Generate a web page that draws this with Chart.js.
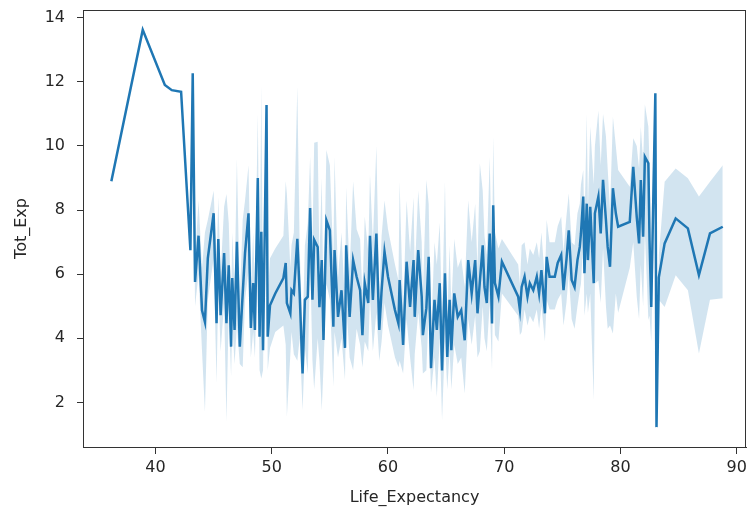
<!DOCTYPE html>
<html>
<head>
<meta charset="utf-8">
<script src="https://cdn.jsdelivr.net/npm/chart.js@4"></script>
<style>
  html, body { margin: 0; padding: 0; background: #fff; }
  #wrap { width: 747px; height: 515px; }
</style>
</head>
<body>
<div id="wrap"><canvas id="lineChart" width="747" height="515"></canvas></div>
<script>
// ── Data ───────────────────────────────────────────────────────────────────
const lifeExp = [
  36.2, 38.9, 40.8, 41.4, 42.2, 43.0, 43.2, 43.4, 43.7, 44.0, 44.25, 44.5, 45.0, 45.25, 45.4, 45.6, 45.9, 46.1, 46.3, 46.5,
  46.6, 46.8, 47.0, 47.25, 47.5, 47.7, 48.0, 48.2, 48.4, 48.55, 48.8, 48.95, 49.1, 49.25, 49.55, 49.65, 49.85, 50.3, 51.0, 51.2,
  51.3, 51.6, 51.7, 51.9, 52.2, 52.4, 52.65, 52.85, 53.1, 53.3, 53.5, 53.65, 53.95, 54.1, 54.3, 54.45, 54.7, 55.0, 55.3, 55.4,
  55.7, 56.0, 56.3, 56.4, 56.7, 57.0, 57.3, 57.6, 57.8, 58.0, 58.3, 58.45, 58.7, 59.0, 59.25, 59.45, 59.7, 60.0, 60.6, 60.9,
  61.0, 61.3, 61.6, 61.9, 62.2, 62.3, 62.6, 62.9, 63.0, 63.3, 63.5, 63.7, 64.0, 64.2, 64.45, 64.65, 64.9, 65.1, 65.3, 65.45,
  65.7, 66.0, 66.3, 66.6, 66.9, 67.2, 67.5, 67.7, 67.9, 68.15, 68.3, 68.5, 68.75, 68.95, 69.05, 69.2, 69.5, 69.8, 71.2, 71.35,
  71.5, 71.75, 72.0, 72.2, 72.5, 72.8, 73.0, 73.2, 73.5, 73.65, 73.9, 74.35, 74.6, 74.9, 75.1, 75.35, 75.55, 75.8, 76.05, 76.3,
  76.5, 76.6, 76.8, 76.9, 77.1, 77.2, 77.4, 77.7, 77.8, 78.1, 78.3, 78.5, 78.75, 78.9, 79.1, 79.35, 79.6, 79.8, 80.8, 81.1,
  81.4, 81.6, 81.75, 81.95, 82.1, 82.4, 82.5, 82.65, 82.8, 83.0, 83.1, 83.3, 83.8, 84.75, 85.8, 86.75, 87.7, 88.8
];
const totExp = [
  8.9, 13.62, 11.9, 11.74, 11.69, 6.75, 12.27, 5.76, 7.2, 4.87, 4.51, 6.5, 7.9, 4.47, 7.1, 4.72, 6.66, 4.47, 6.28, 3.74,
  5.88, 4.26, 7.01, 3.74, 5.4, 6.66, 7.9, 4.32, 5.72, 4.26, 9.0, 4.05, 7.32, 3.63, 11.28, 4.05, 5.03, 5.4, 5.88, 6.35,
  5.1, 4.78, 5.5, 5.4, 7.1, 5.4, 2.9, 5.2, 5.3, 8.06, 5.2, 7.07, 6.85, 4.97, 6.44, 3.95, 7.68, 7.37, 4.36, 6.75,
  4.67, 5.5, 3.7, 6.9, 4.67, 6.44, 5.92, 5.5, 4.1, 5.72, 5.1, 7.2, 5.2, 7.27, 4.26, 5.5, 6.7, 5.92, 4.88, 4.46,
  5.82, 3.79, 6.39, 4.98, 6.44, 4.67, 6.75, 5.3, 4.1, 4.94, 6.54, 3.07, 5.2, 4.26, 5.72, 3.0, 6.03, 3.42, 5.2, 3.63,
  5.4, 4.67, 4.88, 3.94, 6.44, 5.4, 6.44, 4.78, 5.76, 6.9, 5.6, 5.1, 7.27, 4.46, 8.15, 5.72, 5.3, 6.39, 5.3, 4.88,
  5.6, 5.92, 5.3, 5.72, 5.5, 5.92, 5.4, 6.13, 4.78, 6.54, 5.92, 5.92, 6.35, 6.6, 5.5, 6.44, 7.37, 5.82, 5.6, 6.44,
  6.85, 7.27, 8.42, 6.03, 8.2, 6.44, 8.1, 5.72, 7.9, 8.42, 7.27, 8.94, 7.69, 6.85, 6.23, 8.68, 7.9, 7.48, 7.63, 9.35,
  7.79, 6.96, 8.94, 7.17, 9.66, 9.46, 7.06, 4.98, 7.9, 11.64, 1.23, 5.9, 6.96, 7.74, 7.43, 5.97, 7.27, 7.48
];
const ciLow = [
  8.9, 13.62, 11.9, 11.74, 11.69, 6.75, 12.27, 5.0, 6.0, 3.6, 1.7, 5.2, 6.5, 2.6, 5.6, 3.6, 5.1, 1.4, 4.9, 2.8,
  4.5, 3.2, 4.4, 3.2, 3.1, 5.2, 6.1, 3.4, 4.2, 3.4, 6.8, 3.0, 2.75, 3.0, 11.28, 3.0, 3.7, 4.2, 4.4, 3.8,
  1.55, 3.5, 4.2, 3.5, 3.3, 4.0, 1.76, 3.7, 2.9, 6.5, 3.3, 2.4, 4.0, 3.3, 1.76, 3.1, 5.7, 5.2, 2.49, 4.2,
  3.4, 4.0, 2.7, 5.1, 3.4, 3.0, 4.3, 3.8, 3.1, 3.9, 3.6, 5.3, 3.6, 4.8, 3.3, 3.9, 5.1, 4.4, 3.4, 3.1,
  3.3, 2.9, 4.6, 3.4, 2.38, 3.5, 4.8, 3.7, 2.9, 3.0, 4.9, 2.3, 3.4, 2.17, 4.0, 1.45, 3.9, 2.4, 3.6, 2.4,
  3.8, 3.2, 3.4, 2.28, 4.6, 3.8, 4.7, 3.4, 3.6, 5.0, 4.0, 3.6, 5.1, 3.0, 6.2, 4.1, 3.9, 5.4, 4.7, 4.1,
  4.2, 4.9, 4.4, 4.7, 4.5, 4.9, 4.3, 5.0, 3.9, 5.2, 4.9, 4.9, 5.2, 5.4, 4.4, 5.1, 6.0, 4.6, 4.3, 5.0,
  5.5, 5.7, 7.0, 4.7, 5.4, 4.8, 5.4, 2.07, 5.7, 5.8, 5.1, 6.8, 5.0, 4.3, 4.4, 4.15, 5.4, 4.8, 6.2, 7.0,
  5.3, 4.6, 6.3, 5.0, 7.3, 4.57, 4.7, 3.9, 6.1, 11.64, 1.23, 5.2, 4.98, 5.97, 5.5, 3.53, 5.2, 5.25
];
const ciHigh = [
  8.9, 13.62, 11.9, 11.74, 11.69, 6.75, 12.27, 6.5, 8.3, 6.2, 7.3, 7.7, 8.6, 6.3, 8.4, 6.0, 8.1, 8.5, 7.6, 5.0,
  7.3, 5.6, 9.6, 5.2, 7.7, 8.3, 9.4, 5.5, 7.3, 5.6, 11.0, 5.3, 11.9, 4.8, 11.28, 5.2, 6.5, 6.8, 7.2, 8.9,
  8.5, 6.2, 6.9, 7.3, 11.85, 6.8, 4.2, 6.9, 7.6, 9.66, 7.0, 10.1, 10.13, 6.5, 9.0, 5.0, 9.87, 9.4, 6.4, 9.66,
  5.9, 7.3, 5.0, 8.7, 6.1, 8.9, 7.4, 7.1, 5.4, 7.8, 6.7, 9.1, 7.0, 10.0, 5.4, 7.2, 8.3, 7.4, 6.3, 5.8,
  8.88, 4.9, 8.3, 6.7, 8.4, 6.0, 8.6, 7.0, 5.4, 8.94, 8.2, 4.1, 7.0, 6.3, 7.6, 4.6, 8.88, 4.6, 6.9, 5.0,
  7.1, 6.2, 6.5, 5.6, 8.3, 7.0, 8.2, 6.2, 9.46, 8.6, 7.2, 6.6, 9.66, 6.0, 10.3, 7.3, 6.8, 7.1, 6.3, 5.7,
  6.9, 7.0, 6.3, 6.8, 6.6, 7.0, 6.5, 7.3, 5.8, 7.7, 7.0, 7.0, 7.5, 7.8, 6.7, 7.8, 8.52, 7.0, 6.9, 7.9,
  8.2, 8.8, 9.25, 7.4, 11.0, 8.1, 10.6, 8.8, 10.0, 11.1, 9.4, 11.0, 10.3, 9.3, 8.0, 10.9, 10.0, 9.25, 8.73, 10.24,
  10.0, 9.3, 10.6, 9.5, 11.3, 10.6, 9.4, 6.2, 9.6, 11.64, 1.23, 6.6, 8.88, 9.3, 8.99, 8.42, 8.88, 9.4
];
const xTicks = [40, 50, 60, 70, 80, 90];
const yTicks = [2, 4, 6, 8, 10, 12, 14];

const BLUE = '#1f77b4';
const pts = ys => lifeExp.map((x, i) => ({ x, y: ys[i] }));

// spines on all four sides, like matplotlib
const frame = {
  id: 'frame',
  afterDatasetsDraw(chart) {
    const { ctx, chartArea: a } = chart;
    ctx.save();
    ctx.strokeStyle = '#333';
    ctx.lineWidth = 1;
    ctx.strokeRect(Math.round(a.left) + 0.5, Math.round(a.top) + 0.5,
                   Math.round(a.right - a.left) - 1, Math.round(a.bottom - a.top));
    ctx.restore();
  },
};

const font = { family: 'DejaVu Sans', size: 16 };

new Chart(document.getElementById('lineChart'), {
  type: 'line',
  data: {
    datasets: [
      { data: pts(totExp), borderColor: BLUE, borderWidth: 2.5, pointRadius: 0, tension: 0, fill: false, order: 0 },
      { data: pts(ciHigh), borderWidth: 0, pointRadius: 0, tension: 0, fill: '+1',
        backgroundColor: 'rgba(31,119,180,0.2)', order: 1 },
      { data: pts(ciLow), borderWidth: 0, pointRadius: 0, tension: 0, fill: false, order: 2 },
    ],
  },
  options: {
    responsive: false,
    animation: false,
    layout: { padding: { top: 10, right: 1, left: 0, bottom: 0 } },
    plugins: { legend: { display: false }, tooltip: { enabled: false } },
    scales: {
      x: {
        type: 'linear', min: 33.76, max: 90.8,
        afterBuildTicks: s => { s.ticks = xTicks.map(v => ({ value: v })); },
        afterFit: s => { s.height = 68; s.paddingLeft = 0; s.paddingRight = 0; },
        grid: { drawOnChartArea: false, tickLength: 7, color: '#333' },
        border: { color: '#333' },
        ticks: { color: '#262626', font, padding: 4, maxRotation: 0 },
        title: { display: true, text: 'Life_Expectancy', color: '#262626', font, padding: { top: 0, bottom: 8 } },
      },
      y: {
        type: 'linear', min: 0.61, max: 14.24,
        afterBuildTicks: s => { s.ticks = yTicks.map(v => ({ value: v })); },
        afterFit: s => { s.width = 83; s.paddingTop = 0; s.paddingBottom = 0; },
        grid: { drawOnChartArea: false, tickLength: 6, color: '#333' },
        border: { color: '#333' },
        ticks: { color: '#262626', font, padding: 12 },
        title: { display: true, text: 'Tot_Exp', color: '#262626', font, padding: { top: 12, bottom: 0 } },
      },
    },
  },
  plugins: [frame],
});
</script>
</body>
</html>
